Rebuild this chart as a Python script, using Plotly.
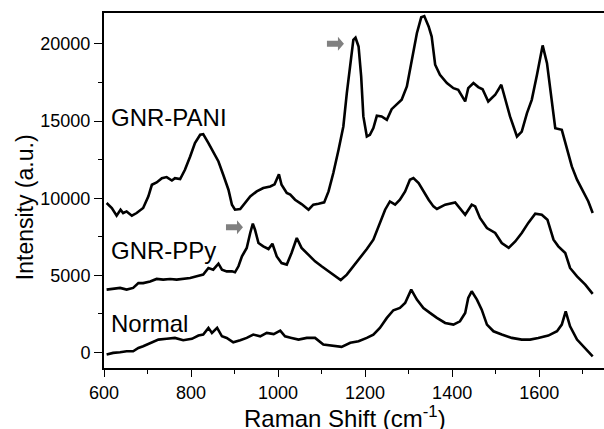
import plotly.graph_objects as go

# ---------------- data ----------------
pani_x = [606, 618, 629, 638, 644, 652, 664, 675, 690, 702, 710, 721, 733, 744, 756, 763, 775, 786, 798, 809,
          821, 828, 840, 851, 863, 874, 886, 894, 901, 913, 924, 936, 951, 966, 982, 992, 1002, 1008, 1020, 1028,
          1039, 1054, 1070, 1081, 1093, 1106, 1116, 1127, 1139, 1150, 1158, 1166, 1173, 1178, 1185, 1191, 1196,
          1204, 1211, 1219, 1227, 1238, 1250, 1261, 1273, 1284, 1296, 1307, 1319, 1329, 1336, 1346, 1353, 1361,
          1372, 1388, 1403, 1414, 1430, 1437, 1449, 1460, 1470, 1483, 1499, 1513, 1522, 1533, 1549, 1560, 1572,
          1583, 1595, 1608, 1618, 1629, 1637, 1652, 1664, 1675, 1687, 1702, 1713, 1723]
pani_y = [9690, 9365, 8870, 9255, 9040, 9145, 8870, 9040, 9365, 10120, 10870, 11020, 11300, 11370, 11150, 11300,
          11240, 11845, 12705, 13570, 14110, 14150, 13570, 13030, 12380, 11520, 10550, 9580, 9255, 9300, 9690,
          10120, 10440, 10660, 10760, 10900, 11550, 10870, 10340, 10230, 9900, 9620, 9255, 9580, 9640, 9730,
          10440, 11630, 13140, 14650, 16810, 18750, 20260, 20400, 19830, 17880, 15300, 14000, 14110, 14540,
          15340, 15300, 15080, 15770, 16100, 16375, 17240, 18960, 20690, 21720, 21800, 21130, 20470, 18650,
          17990, 17460, 17130, 17020, 16270, 17130, 17460, 17200, 17060, 16270, 16700, 17350, 16490, 15300,
          14000, 14320, 15510, 16375, 18000, 19900, 18750, 16160, 14540, 14430, 13100, 12060, 11200, 10340,
          9790, 9040]

ppy_x = [606, 621, 637, 652, 667, 679, 690, 706, 721, 736, 752, 767, 782, 798, 813, 828, 840, 851, 863, 871,
         882, 894, 901, 909, 917, 928, 936, 942, 947, 955, 966, 978, 987, 997, 1008, 1020, 1031, 1043, 1054,
         1070, 1085, 1100, 1116, 1131, 1144, 1158, 1173, 1189, 1204, 1219, 1234, 1246, 1257, 1269, 1280, 1292,
         1303, 1311, 1323, 1334, 1346, 1357, 1365, 1384, 1407, 1430, 1445, 1453, 1464, 1480, 1499, 1514, 1530,
         1545, 1560, 1575, 1591, 1606, 1619, 1633, 1644, 1660, 1671, 1687, 1706, 1723]
ppy_y = [4080, 4120, 4190, 4080, 4190, 4500, 4500, 4610, 4770, 4725, 4770, 4725, 4770, 4835, 4940, 5050, 5480,
         5370, 5760, 5370, 5260, 5260, 5200, 5590, 6230, 6780, 7750, 8350, 7960, 7100, 6880, 6710, 7050, 6230,
         5800, 5700, 6450, 7420, 6780, 6340, 5910, 5590, 5260, 4940, 4700, 5050, 5590, 6130, 6710, 7310, 8400,
         9255, 9790, 9580, 9900, 10440, 11200, 11300, 10980, 10440, 9900, 9470, 9300, 9580, 9730, 8930, 9580,
         9470, 8720, 8070, 7750, 7100, 6780, 7200, 7750, 8400, 9000, 8930, 8610, 7310, 6880, 6450, 5480, 4940,
         4400, 3800]

normal_x = [606, 621, 637, 652, 667, 679, 690, 706, 725, 744, 763, 782, 802, 817, 828, 840, 848, 860, 871, 882,
            897, 913, 928, 943, 959, 974, 990, 1005, 1016, 1031, 1047, 1066, 1085, 1104, 1123, 1146, 1166, 1185,
            1204, 1219, 1234, 1250, 1265, 1280, 1292, 1306, 1319, 1334, 1349, 1365, 1384, 1403, 1418, 1430, 1437,
            1445, 1457, 1468, 1480, 1495, 1514, 1537, 1560, 1579, 1598, 1621, 1641, 1652, 1661, 1671, 1687, 1702,
            1723]
normal_y = [-130, -20, 20, 85, 85, 300, 410, 630, 840, 890, 950, 800, 890, 1100, 1165, 1600, 1275, 1600, 1055,
            950, 670, 800, 950, 1165, 1055, 1275, 1200, 1420, 1055, 950, 840, 950, 950, 520, 450, 370, 630, 730,
            950, 1165, 1600, 2245, 2740, 2890, 3215, 4080, 3430, 2890, 2570, 2245, 1920, 1810, 2025, 2570, 3540,
            3970, 3430, 2780, 1810, 1380, 1165, 950, 840, 840, 950, 1100, 1380, 1810, 2670, 1700, 840, 410, -240]

series_names = ["GNR-PANI", "GNR-PPy", "Normal"]
x_ticks = [600, 800, 1000, 1200, 1400, 1600]
y_ticks = [0, 5000, 10000, 15000, 20000]

FONT = "Liberation Sans, Arial, sans-serif"

fig = go.Figure()
for xs, ys, name in [(pani_x, pani_y, series_names[0]), (ppy_x, ppy_y, series_names[1]),
                     (normal_x, normal_y, series_names[2])]:
    fig.add_trace(go.Scatter(x=xs, y=ys, mode="lines", name=name,
                             line=dict(color="black", width=2.6), showlegend=False))

# curve labels
label_pos = [(612, 15250), (612, 6600), (612, 1900)]
for name, (lx, ly) in zip(series_names, label_pos):
    fig.add_annotation(x=lx, y=ly, xref="x", yref="y", text=name, showarrow=False,
                       xanchor="left", yanchor="middle", font=dict(family=FONT, size=24, color="black"))

# grey block arrows (pixel-sized, anchored in data space)
arrow_path = "M -9,-3 L 2,-3 L 2,-7 L 8,0 L 2,7 L 2,3 L -9,3 Z"
for ax_, ay_ in [(1133, 20000), (901, 8120)]:
    fig.add_shape(type="path", path=arrow_path, xref="x", yref="y",
                  xsizemode="pixel", ysizemode="pixel", xanchor=ax_, yanchor=ay_,
                  fillcolor="#808080", line=dict(width=0))

# axis titles
fig.add_annotation(x=0.482, y=-0.137, xref="paper", yref="paper",
                   text="Raman Shift (cm<sup>-1</sup>)", showarrow=False,
                   xanchor="center", yanchor="middle", font=dict(family=FONT, size=24, color="black"))
fig.add_annotation(x=-0.158, y=0.453, xref="paper", yref="paper", text="Intensity (a.u.)",
                   showarrow=False, textangle=-90, xanchor="center", yanchor="middle",
                   font=dict(family=FONT, size=23, color="black"))

fig.update_xaxes(range=[600, 1749], tickvals=x_ticks, ticks="outside", ticklen=7, tickwidth=1.3,
                 tickcolor="black", showline=True, linecolor="black", linewidth=2, mirror=True,
                 showgrid=False, zeroline=False, tickformat="d",
                 tickfont=dict(family=FONT, size=18, color="black"),
                 minor=dict(dtick=100, tick0=600, ticks="outside", ticklen=4, tickcolor="black", tickwidth=1.3))
fig.update_yaxes(range=[-1000, 22000], tickvals=y_ticks, ticks="outside", ticklen=8, tickwidth=1.3,
                 tickcolor="black", showline=True, linecolor="black", linewidth=2, mirror=False,
                 showgrid=False, zeroline=False, tickformat="d",
                 tickfont=dict(family=FONT, size=18, color="black"),
                 minor=dict(dtick=2500, tick0=0, ticks="outside", ticklen=4, tickcolor="black", tickwidth=1.3))

fig.update_layout(width=604, height=429, margin=dict(l=104, r=0, t=13, b=61, autoexpand=False),
                  plot_bgcolor="white", paper_bgcolor="white", showlegend=False)

fig.write_html("out.html", config={"displayModeBar": False},
               post_script="document.body.style.margin='0px';")
